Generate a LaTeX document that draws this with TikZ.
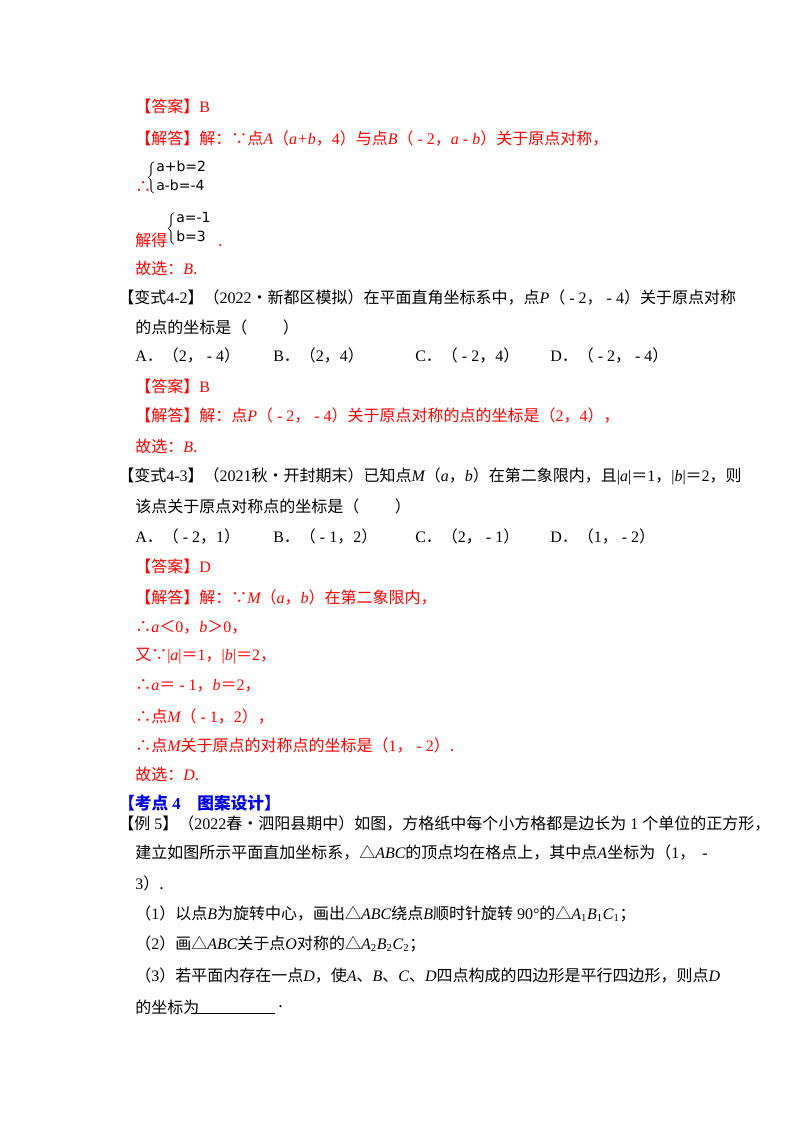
\documentclass[tikz,border=0pt]{standalone}
\usepackage{fontspec}
\usetikzlibrary{positioning}
\setmainfont{Noto Sans CJK SC}
\newfontfamily\latn{Liberation Serif}
\newfontfamily\eqfont{DejaVu Sans}
\newcommand{\vi}[1]{{\latn\itshape #1}}
\newcommand{\vr}[1]{{\latn #1}}
\newcommand{\sysbr}[2]{$\left\{\begin{array}{@{}l@{}}\mbox{\eqfont #1}\\[2pt]\mbox{\eqfont #2}\end{array}\right.$}
\definecolor{ansred}{RGB}{255,0,0}
\definecolor{hdblue}{RGB}{0,0,230}

\begin{document}
\begin{tikzpicture}[x=0.75pt,y=-0.75pt,font=\fontsize{12}{14}\selectfont]
\tikzstyle{ans} = [anchor=west, inner sep=0pt, text=ansred]
\tikzstyle{txt} = [anchor=west, inner sep=0pt, text=black]
\tikzstyle{hd} = [anchor=west, inner sep=0pt, text=hdblue, font=\fontsize{12.5}{14}\bfseries]
\tikzstyle{eqn} = [anchor=west, inner sep=0pt, text=black, font=\fontsize{10.5}{12}\selectfont]
\useasboundingbox (0,0) rectangle (800,1132);
% first answer
\node[ans] (ans1) at (135,106) {【答案】\vr{B}};
\node[ans] (sol1) at (135,139) {【解答】解：∵点\vi{A}（\vi{a+b}，\vr{4}）与点\vi{B}（\vr{ - 2}，\vi{a}\vr{ - }\vi{b}）关于原点对称，};
\node[ans] (thus1) at (135,187) {∴};
\node[eqn] (sys1) at (146,178) {\sysbr{a+b=2}{a-b=-4}};
\node[ans] (get1) at (135,240) {解得};
\node[eqn] (sys2) at (166,229) {\sysbr{a=-1}{b=3}};
\node[ans, anchor=south west] (dot1) at ([xshift=4pt]sys2.south east) {.};
\node[ans] (pick1) at (135,268) {故选：\vi{B}.};
% variant 4-2
\node[txt] (q42) at (118,298) {【变式\vr{4-2}】（\vr{2022}•新都区模拟）在平面直角坐标系中，点\vi{P}（\vr{ - 2}，\vr{ - 4}）关于原点对称};
\node[txt] (q42b) at (135,327) {的点的坐标是（\qquad\ ）};
\node[txt] (q42A) at (135,356) {\vr{A}．（\vr{2}，\vr{ - 4}）};
\node[txt] (q42B) at (273,356) {\vr{B}．（\vr{2}，\vr{4}）};
\node[txt] (q42C) at (415,356) {\vr{C}．（\vr{ - 2}，\vr{4}）};
\node[txt] (q42D) at (550,356) {\vr{D}．（\vr{ - 2}，\vr{ - 4}）};
\node[ans] (ans2) at (135,386) {【答案】\vr{B}};
\node[ans] (sol2) at (135,416) {【解答】解：点\vi{P}（\vr{ - 2}，\vr{ - 4}）关于原点对称的点的坐标是（\vr{2}，\vr{4}），};
\node[ans] (pick2) at (135,446) {故选：\vi{B}.};
% variant 4-3
\node[txt] (q43) at (118,476) {【变式\vr{4-3}】（\vr{2021}秋•开封期末）已知点\vi{M}（\vi{a}，\vi{b}）在第二象限内，且\vr{|}\vi{a}\vr{|}＝\vr{1}，\vr{|}\vi{b}\vr{|}＝\vr{2}，则};
\node[txt] (q43b) at (135,506) {该点关于原点对称点的坐标是（\qquad\ ）};
\node[txt] (q43A) at (135,536) {\vr{A}．（\vr{ - 2}，\vr{1}）};
\node[txt] (q43B) at (273,536) {\vr{B}．（\vr{ - 1}，\vr{2}）};
\node[txt] (q43C) at (415,536) {\vr{C}．（\vr{2}，\vr{ - 1}）};
\node[txt] (q43D) at (550,536) {\vr{D}．（\vr{1}，\vr{ - 2}）};
\node[ans] (ans3) at (135,566) {【答案】\vr{D}};
\node[ans] (sol3) at (135,597) {【解答】解：∵\vi{M}（\vi{a}，\vi{b}）在第二象限内，};
\node[ans] (step1) at (135,627) {∴\vi{a}＜\vr{0}，\vi{b}＞\vr{0}，};
\node[ans] (step2) at (135,656) {又∵\vr{|}\vi{a}\vr{|}＝\vr{1}，\vr{|}\vi{b}\vr{|}＝\vr{2}，};
\node[ans] (step3) at (135,686) {∴\vi{a}＝\vr{ - 1}，\vi{b}＝\vr{2}，};
\node[ans] (step4) at (135,716) {∴点\vi{M}（\vr{ - 1}，\vr{2}），};
\node[ans] (step5) at (135,745) {∴点\vi{M}关于原点的对称点的坐标是（\vr{1}，\vr{ - 2}）.};
\node[ans] (pick3) at (135,774) {故选：\vi{D}.};
% topic 4
\node[hd] (topic) at (118,803) {【考点\vr{ 4}\quad 图案设计】};
\node[txt] (ex5) at (118,823) {【例\vr{ 5}】（\vr{2022}春•泗阳县期中）如图，方格纸中每个小方格都是边长为\vr{ 1 }个单位的正方形，};
\node[txt] (ex5b) at (135,852) {建立如图所示平面直加坐标系，△\vi{ABC}的顶点均在格点上，其中点\vi{A}坐标为（\vr{1}，\ \ \vr{-}};
\node[txt] (ex5c) at (135,883) {\vr{3}）.};
\node[txt] (ex5q1) at (135,914) {（\vr{1}）以点\vi{B}为旋转中心，画出△\vi{ABC}绕点\vi{B}顺时针旋转\vr{ 90°}的△\vi{A}\vr{\textsubscript{1}}\vi{B}\vr{\textsubscript{1}}\vi{C}\vr{\textsubscript{1}}；};
\node[txt] (ex5q2) at (135,944) {（\vr{2}）画△\vi{ABC}关于点\vi{O}对称的△\vi{A}\vr{\textsubscript{2}}\vi{B}\vr{\textsubscript{2}}\vi{C}\vr{\textsubscript{2}}；};
\node[txt] (ex5q3) at (135,975) {（\vr{3}）若平面内存在一点\vi{D}，使\vi{A}、\vi{B}、\vi{C}、\vi{D}四点构成的四边形是平行四边形，则点\vi{D}};
\node[txt] (ex5q4) at (135,1007) {的坐标为};
\coordinate (blankL) at (191,1013);
\coordinate (blankR) at (275,1013);
\draw[thin] (blankL) -- (blankR);
\node[txt] (ex5dot) at (278,1007) {.};
\end{tikzpicture}
\end{document}
